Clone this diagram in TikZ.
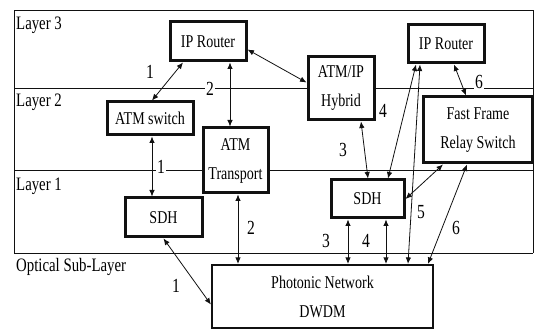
\documentclass[tikz,border=0pt]{standalone}
\usepackage{fontspec}
\setmainfont{Liberation Serif}[FakeStretch=0.78]
\usetikzlibrary{arrows.meta,positioning}
\definecolor{cink}{HTML}{111111}
\tikzset{>={Latex[length=6.5pt,width=5.5pt]},
  bx/.style={draw=cink,line width=3pt,fill=white,align=center,inner sep=0pt,
    font=\fontsize{18}{29}\selectfont},
  cn/.style={<->,draw=cink,line width=0.8pt},
  num/.style={font=\fontsize{20}{20}\selectfont,inner sep=1pt},
  lyr/.style={font=\fontsize{19}{19}\selectfont,anchor=base west,inner sep=0pt},
  ln/.style={draw=cink,line width=0.8pt}}

\begin{document}
\begin{tikzpicture}[x=1pt,y=-1pt]
\useasboundingbox (0,0) rectangle (536,331);

% ================= frame and layer borders =================
\draw[ln] (14,253) -- (14,10) -- (533,10) -- (533,253);
\draw[ln] (14,88) -- (533,88);
\draw[ln] (14,170) -- (533,170);
\draw[ln] (14,253) -- (533,253);
\node[lyr] (l3) at (16,30) {Layer 3};
\node[lyr] (l2) at (16,107) {Layer 2};
\node[lyr] (l1) at (16,191) {Layer 1};
\node[lyr] (l0) at (16,272) {Optical Sub-Layer};

% ================= equipment boxes =================
\node[bx,minimum width=76pt,minimum height=39pt] (ipl) at (208,41.5) {IP Router};
\node[bx,minimum width=76pt,minimum height=38pt] (ipr) at (446,44) {IP Router};
\node[bx,minimum width=86pt,minimum height=33pt] (atmsw) at (150,118.5) {ATM switch};
\node[bx,minimum width=65pt,minimum height=65pt] (atmtr) at (235.5,160.5) {ATM\\Transport};
\node[bx,minimum width=66pt,minimum height=63pt] (hyb) at (341,88.5) {ATM/IP\\Hybrid};
\node[bx,minimum width=109pt,minimum height=66pt] (ffrs) at (478,130) {Fast Frame\\Relay Switch};
\node[bx,minimum width=77pt,minimum height=39pt] (sdhl) at (163.5,217.5) {SDH};
\node[bx,minimum width=73pt,minimum height=38pt] (sdhr) at (367.5,199) {SDH};
\node[bx,line width=2.2pt,minimum width=221pt,minimum height=63pt] (phot) at (322.5,296.5) {Photonic Network\\DWDM};

% ================= connections =================
\draw[cn] ([xshift=-25pt]ipl.south) -- ([xshift=2pt]atmsw.north);
\draw[cn] ([xshift=22pt]ipl.south) -- ([xshift=-5.5pt]atmtr.north);
\draw[cn] ([yshift=-8pt]ipl.east) -- ([yshift=6pt]hyb.west);
\draw[cn] ([xshift=2pt]atmsw.south) -- ([xshift=-11.5pt]sdhl.north);
\draw[cn] ([xshift=2.5pt]atmtr.south) -- ([xshift=-84.5pt]phot.north);
\draw[cn] ([xshift=0pt]sdhl.south) -- ([yshift=-8pt]phot.west);
\draw[cn] ([xshift=20pt]hyb.south) -- ([xshift=0.5pt]sdhr.north);
\draw[cn] ([xshift=-30pt]ipr.south) -- ([xshift=20.5pt]sdhr.north);
\draw[cn] ([xshift=-26pt]ipr.south) -- ([xshift=85.5pt]phot.north);
\draw[cn] ([xshift=-35pt]ffrs.south) -- (sdhr.east);
\draw[cn] ([xshift=8pt]ipr.south) -- ([xshift=-12pt]ffrs.north);
\draw[cn] ([xshift=-11pt]ffrs.south) -- ([xshift=105.5pt]phot.north);
\draw[cn] ([xshift=-19.5pt]sdhr.south) -- ([xshift=25.5pt]phot.north);
\draw[cn] ([xshift=18.5pt]sdhr.south) -- ([xshift=63.5pt]phot.north);

% ================= link numbers =================
\node[num] (n1a) at (150,72) {1};
\node[num,fill=white] (n2a) at (210,89) {2};
\node[num,fill=white] (n1b) at (161,167) {1};
\node[num] (n2b) at (251,228) {2};
\node[num] (n1c) at (176,286) {1};
\node[num] (n3a) at (343,150) {3};
\node[num] (n4a) at (383,111) {4};
\node[num] (n5) at (421,212) {5};
\node[num,fill=white] (n6a) at (479,82) {6};
\node[num] (n6b) at (456,228) {6};
\node[num] (n3b) at (326,241) {3};
\node[num] (n4b) at (366,241) {4};

\end{tikzpicture}
\end{document}
